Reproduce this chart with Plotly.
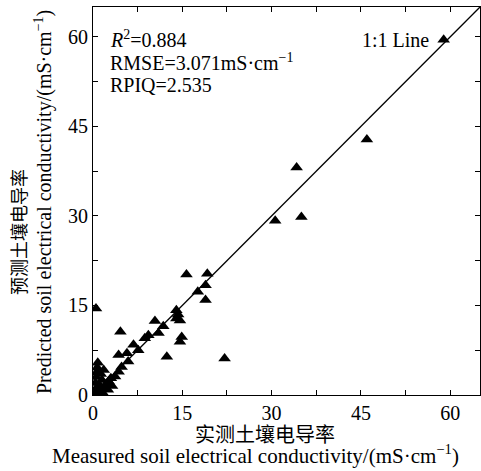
import plotly.graph_objects as go

# Data (measured vs predicted soil EC, mS/cm)
measured = [0.3, 0.5, 0.6, 0.4, 0.5, 0.6, 0.7, 0.8, 0.5, 1.0, 1.2, 1.5, 1.3, 1.8, 2.0, 2.2, 2.6, 3.0, 1.6, 2.5, 3.2,
            3.7, 4.3, 4.8, 5.9, 5.7, 4.3, 4.6, 7.6, 6.8, 8.7, 9.3,
            10.4, 11.0, 11.8, 12.4, 14.0, 14.3, 14.0, 14.6, 14.9, 14.6, 15.7, 17.6, 18.9, 19.2, 18.9, 22.1,
            30.6, 34.2, 35.0, 46.0, 58.9]
predicted = [0.2, 0.5, 1.2, 2.0, 3.0, 3.8, 4.6, 5.4, 14.5, 0.8, 1.5, 2.5, 3.5, 4.2, 1.0, 1.8, 2.3, 2.8, 0.4, 0.9, 1.5,
             3.1, 3.9, 4.7, 5.6, 7.0, 6.7, 10.6, 7.5, 8.4, 9.5, 10.0,
             12.4, 10.4, 11.5, 6.4, 14.2, 13.5, 12.8, 12.5, 9.7, 8.9, 20.2, 17.3, 18.4, 20.3, 15.9, 6.1,
             29.2, 38.1, 29.8, 42.8, 59.5]
line_xy = [0, 65]
axis_range = [0, 65]
major_step = 15
minor_step = 7.5
stats_lines = ["<i>R</i><sup>2</sup>=0.884", "RMSE=3.071mS·cm<sup>−1</sup>", "RPIQ=2.535"]

W, H = 481, 471
L, R, T, B = 93, 1, 7, 76
PW, PH = W - L - R, H - T - B

def px(xp):
    return (xp - L) / PW

def py(yp):
    return (H - B - yp) / PH

serif = "Liberation Serif, Times New Roman, Noto Sans CJK SC, serif"

fig = go.Figure()
fig.add_trace(go.Scatter(x=line_xy, y=line_xy, mode="lines",
                         line=dict(color="black", width=1.3), showlegend=False, hoverinfo="skip"))
fig.add_trace(go.Scatter(x=measured, y=predicted, mode="markers",
                         marker=dict(symbol="triangle-up", size=11, color="black"),
                         showlegend=False))

axis_common = dict(range=axis_range, showgrid=False, zeroline=False, showline=True, linecolor="black",
                   linewidth=1.2, mirror="allticks", ticks="inside", ticklen=5, tickcolor="black",
                   tickwidth=1, tick0=0, dtick=major_step,
                   minor=dict(dtick=minor_step, tick0=0, ticks="inside", ticklen=5, tickcolor="black",
                              tickwidth=1, showgrid=False),
                   tickfont=dict(family=serif, size=20, color="black"))
fig.update_xaxes(**axis_common)
fig.update_yaxes(**axis_common)

ann = []
for i, t in enumerate(stats_lines):
    ann.append(dict(text=t, xref="paper", yref="paper", x=px(108), y=py(39 + 23 * i), xanchor="left",
                    yanchor="middle", showarrow=False, font=dict(family=serif, size=20, color="black")))
ann.append(dict(text="1:1 Line", xref="paper", yref="paper", x=px(431), y=py(40), xanchor="right",
                yanchor="middle", showarrow=False, font=dict(family=serif, size=20, color="black")))
ann.append(dict(text="实测土壤电导率", xref="paper", yref="paper", x=px(265), y=py(435), xanchor="center",
                yanchor="middle", showarrow=False, font=dict(family=serif, size=20, color="black")))
ann.append(dict(text="Measured soil electrical conductivity/(mS·cm<sup>−1</sup>)", xref="paper", yref="paper",
                x=px(255), y=py(470), xanchor="center", yanchor="bottom", showarrow=False,
                font=dict(family=serif, size=21, color="black")))
ann.append(dict(text="预测土壤电导率", xref="paper", yref="paper", x=px(20), y=py(232), xanchor="center",
                yanchor="middle", textangle=-90, showarrow=False, font=dict(family=serif, size=18, color="black")))
ann.append(dict(text="Predicted soil electrical conductivity/(mS·cm<sup>−1</sup>)", xref="paper", yref="paper",
                x=px(43), y=py(202), xanchor="center", yanchor="middle", textangle=-90, showarrow=False,
                font=dict(family=serif, size=20, color="black")))

fig.update_layout(width=W, height=H, margin=dict(l=L, r=R, t=T, b=B), plot_bgcolor="white",
                  paper_bgcolor="white", annotations=ann, showlegend=False)
fig.write_html("out.html", config={"displayModeBar": False},
               post_script="document.body.style.margin='0px';document.body.style.overflow='hidden';")
